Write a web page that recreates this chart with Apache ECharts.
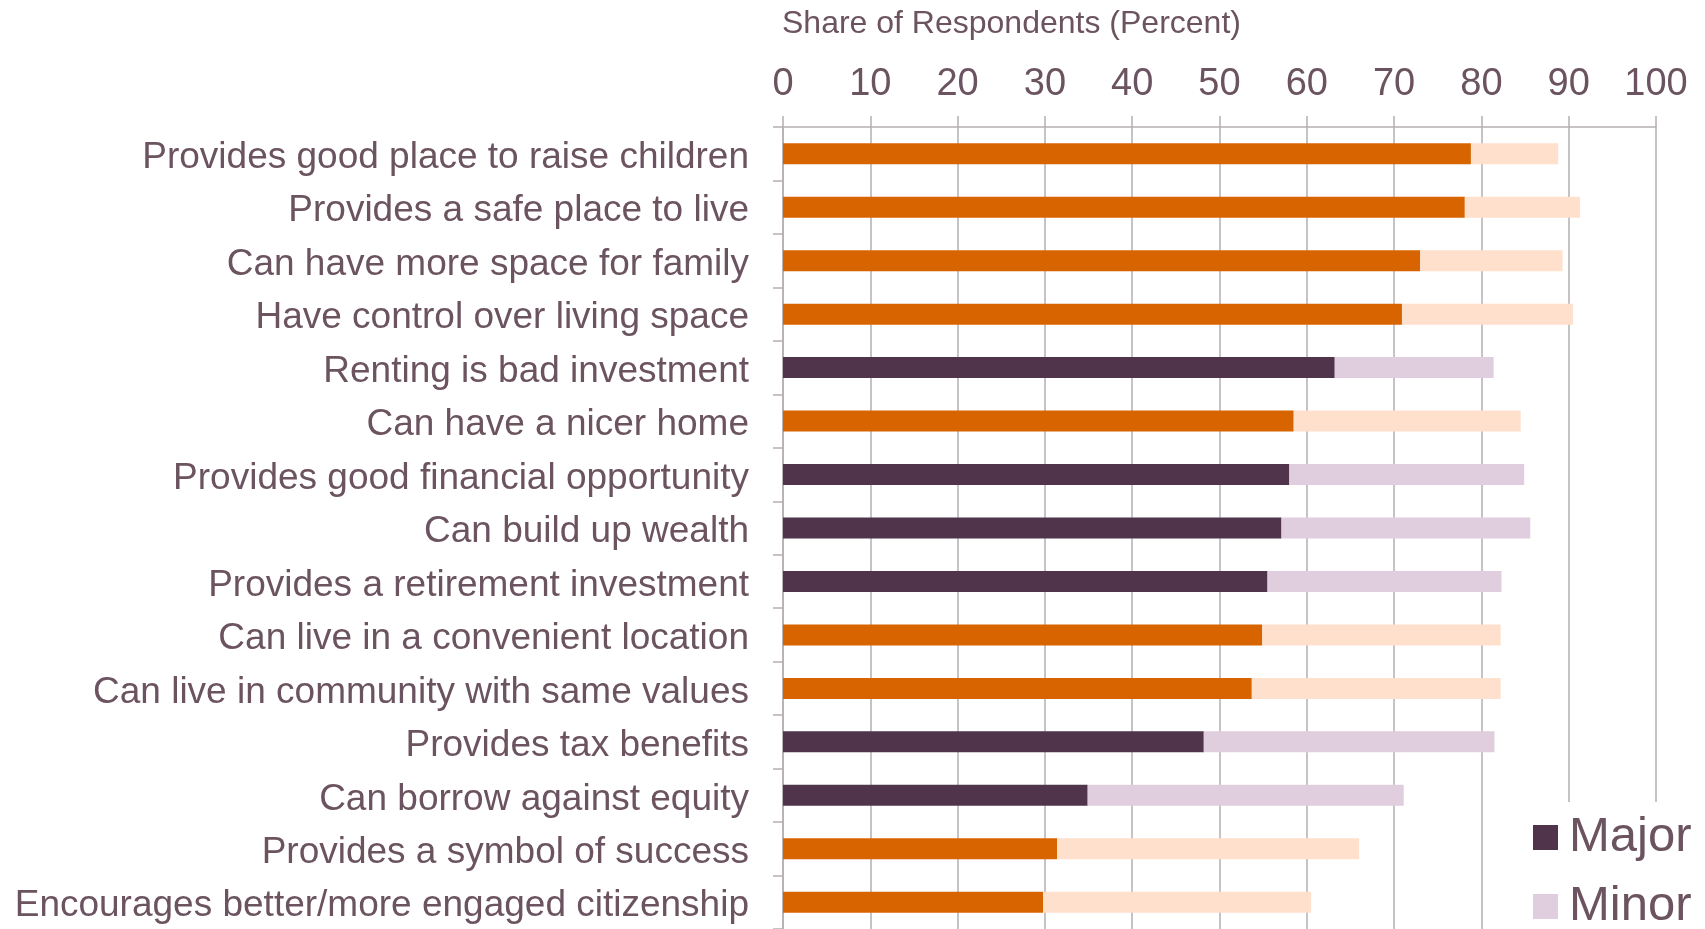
<!DOCTYPE html>
<html>
<head>
<meta charset="utf-8">
<title>Reasons for buying a home</title>
<script src="https://cdn.jsdelivr.net/npm/echarts@6/dist/echarts.min.js"></script>
<style>
  html, body { margin: 0; padding: 0; background: #fff; }
  #chart { width: 1705px; height: 929px; }
</style>
</head>
<body>
<div id="chart"></div>
<script>
// reasons, top to bottom
const categories = [
  'Provides good place to raise children',
  'Provides a safe place to live',
  'Can have more space for family',
  'Have control over living space',
  'Renting is bad investment',
  'Can have a nicer home',
  'Provides good financial opportunity',
  'Can build up wealth',
  'Provides a retirement investment',
  'Can live in a convenient location',
  'Can live in community with same values',
  'Provides tax benefits',
  'Can borrow against equity',
  'Provides a symbol of success',
  'Encourages better/more engaged citizenship'
];
// share saying it is a major reason
const majorValues = [78.8, 78.1, 73.0, 70.9, 63.2, 58.5, 58.0, 57.1, 55.5, 54.9, 53.7, 48.2, 34.9, 31.4, 29.8];
// share saying it is a minor reason
const minorValues = [10.0, 13.2, 16.3, 19.6, 18.2, 26.0, 26.9, 28.5, 26.8, 27.3, 28.5, 33.3, 36.2, 34.6, 30.7];
// financial reasons are drawn in the purple pair
const financialReasons = [
  'Renting is bad investment',
  'Provides good financial opportunity',
  'Can build up wealth',
  'Provides a retirement investment',
  'Provides tax benefits',
  'Can borrow against equity'
];
const xTicks = [0, 10, 20, 30, 40, 50, 60, 70, 80, 90, 100];

const textColor = '#6b535f';
const gridColor = '#b5aeb2';
const font = 'Liberation Sans, Arial, sans-serif';
const colors = {
  major: '#4f344b', minor: '#e0cddd',
  majorOther: '#d86400', minorOther: '#ffe0cc'
};

function barData(values, kind) {
  return values.map((v, i) => {
    const fin = financialReasons.indexOf(categories[i]) >= 0;
    return {
      value: v,
      itemStyle: { color: fin ? colors[kind] : colors[kind + 'Other'] }
    };
  });
}

const chart = echarts.init(document.getElementById('chart'));

const option = {
  animation: false,
  title: {
    text: 'Share of Respondents (Percent)',
    left: 782,
    top: 8,
    padding: 0,
    textStyle: { color: textColor, fontFamily: font, fontSize: 32, fontWeight: 'normal' }
  },
  legend: {
    orient: 'vertical',
    left: 1525,
    top: 802,
    height: 300, // keeps the two items in one column
    padding: [11, 30, 0, 8],
    backgroundColor: '#fff',
    itemWidth: 25,
    itemHeight: 25,
    itemGap: 20,
    icon: 'rect',
    data: ['Major', 'Minor'],
    textStyle: { color: textColor, fontFamily: font, fontSize: 49, padding: [0, 0, 10, 6] }
  },
  grid: {
    left: 783,
    right: 49,
    top: 127,
    height: 805
  },
  xAxis: {
    type: 'value',
    position: 'top',
    min: xTicks[0],
    max: xTicks[xTicks.length - 1],
    interval: xTicks[1] - xTicks[0],
    axisLine: { show: true, lineStyle: { color: gridColor, width: 1.5 } },
    axisTick: { show: true, length: 11, lineStyle: { color: gridColor, width: 1.5 } },
    axisLabel: { color: textColor, fontFamily: font, fontSize: 38, margin: 23 },
    splitLine: { show: true, lineStyle: { color: gridColor, width: 1.5 } }
  },
  yAxis: {
    type: 'category',
    inverse: true,
    data: categories,
    axisLine: { show: true, lineStyle: { color: gridColor, width: 1.5 } },
    axisTick: { show: true, length: 10, lineStyle: { color: gridColor, width: 1.5 } },
    axisLabel: {
      color: textColor, fontFamily: font, fontSize: 37, margin: 34,
      verticalAlign: 'top', lineHeight: 8
    }
  },
  series: [
    {
      name: 'Major',
      type: 'bar',
      stack: 'share',
      barWidth: 21,
      color: colors.major,
      data: barData(majorValues, 'major')
    },
    {
      name: 'Minor',
      type: 'bar',
      stack: 'share',
      barWidth: 21,
      color: colors.minor,
      data: barData(minorValues, 'minor')
    }
  ]
};

chart.setOption(option);
</script>
</body>
</html>
